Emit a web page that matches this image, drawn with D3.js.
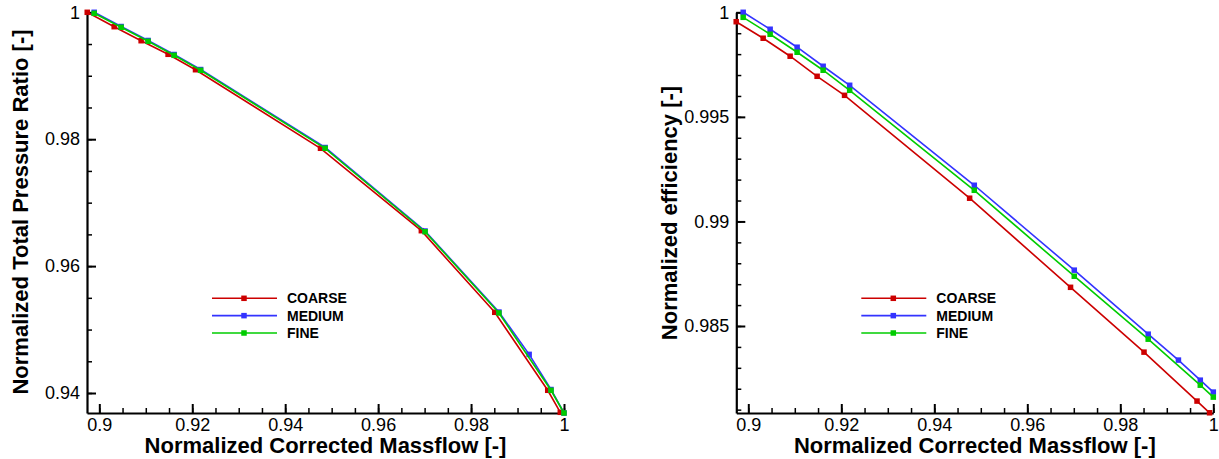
<!DOCTYPE html>
<html>
<head>
<meta charset="utf-8">
<script src="https://cdn.jsdelivr.net/npm/d3@7"></script>
<style>
  html, body { margin: 0; padding: 0; background: #fff; }
  svg { display: block; font-family: "Liberation Sans", Arial, sans-serif; }
</style>
</head>
<body>
<svg id="chart" width="1219" height="459"></svg>
<script>
// ---- data ----
const seriesNames = ["COARSE", "MEDIUM", "FINE"];
const massflowCoarse = [0.8974, 0.9032, 0.9090, 0.9148, 0.9207, 0.9476, 0.9693, 0.9851, 0.9965, 0.9992];
const massflowMedium = [0.8989, 0.9047, 0.9105, 0.9161, 0.9218, 0.9486, 0.9701, 0.9860, 0.9925, 0.9972, 1.0];
const massflowFine   = [0.8989, 0.9047, 0.9105, 0.9161, 0.9218, 0.9486, 0.9701, 0.9860, 0.9972, 1.0];

const prCoarse = [1.0, 0.99773, 0.99552, 0.99338, 0.99095, 0.97857, 0.96558, 0.95272, 0.94043, 0.93696];
const prMedium = [1.0, 0.99776, 0.99556, 0.99335, 0.99098, 0.97869, 0.96553, 0.95276, 0.94609, 0.94055, 0.93685];
const prFine   = [0.99984, 0.99764, 0.99543, 0.99322, 0.99086, 0.97857, 0.96542, 0.95261, 0.94043, 0.93685];

const effCoarse = [0.99955, 0.99876, 0.99790, 0.99694, 0.99603, 0.99111, 0.98685, 0.98375, 0.98141, 0.98085];
const effMedium = [1.0, 0.99919, 0.99833, 0.99742, 0.99651, 0.99173, 0.98767, 0.98461, 0.98337, 0.98241, 0.98184];
const effFine   = [0.99976, 0.99895, 0.99809, 0.99723, 0.99627, 0.99149, 0.98738, 0.98437, 0.98217, 0.98160];

const xTicks = [0.9, 0.92, 0.94, 0.96, 0.98, 1];
const xTickLabels = ["0.9", "0.92", "0.94", "0.96", "0.98", "1"];
const prTicks = [0.94, 0.96, 0.98, 1];
const prTickLabels = ["0.94", "0.96", "0.98", "1"];
const effTicks = [0.985, 0.99, 0.995, 1];
const effTickLabels = ["0.985", "0.99", "0.995", "1"];

const xTitle = "Normalized Corrected Massflow [-]";
const prTitle = "Normalized Total Pressure Ratio [-]";
const effTitle = "Normalized efficiency [-]";

// ---- styles ----
const colors = ["#cc0000", "#3333ff", "#00cc00"];
const svg = d3.select("#chart");

function drawPanel(cfg) {
  const x = d3.scaleLinear().domain(cfg.xDomain).range([cfg.left, cfg.right]);
  const y = d3.scaleLinear().domain(cfg.yDomain).range([cfg.bottom, cfg.top]);
  const g = svg.append("g");

  // minor ticks
  const xMinor = d3.range(0.9, 1.0001, 0.005).filter(v => v >= cfg.xDomain[0]);
  g.append("g").attr("transform", `translate(0,${cfg.bottom})`)
    .call(d3.axisBottom(x).tickValues(xMinor).tickSize(-5).tickFormat("").tickSizeOuter(0))
    .call(s => s.select(".domain").remove())
    .call(s => s.selectAll("line").attr("stroke-width", 1.5));
  const yMinor = d3.range(cfg.yMinorStart, 1.00001, cfg.yMinorStep).filter(v => v >= cfg.yDomain[0]);
  g.append("g").attr("transform", `translate(${cfg.left},0)`)
    .call(d3.axisLeft(y).tickValues(yMinor).tickSize(-5).tickFormat("").tickSizeOuter(0))
    .call(s => s.select(".domain").remove())
    .call(s => s.selectAll("line").attr("stroke-width", 1.5));

  // major axes
  const xa = g.append("g").attr("transform", `translate(0,${cfg.bottom})`)
    .call(d3.axisBottom(x).tickValues(xTicks).tickSize(-9).tickSizeOuter(0).tickPadding(5.5)
      .tickFormat((d, i) => xTickLabels[i]));
  const ya = g.append("g").attr("transform", `translate(${cfg.left},0)`)
    .call(d3.axisLeft(y).tickValues(cfg.yTicks).tickSize(-9).tickSizeOuter(0).tickPadding(7)
      .tickFormat((d, i) => cfg.yLabels[i]));
  [xa, ya].forEach(a => {
    a.selectAll("text").attr("font-size", 18).attr("font-family", "Liberation Sans, Arial, sans-serif").attr("fill", "#000");
    a.selectAll("line").attr("stroke-width", 2).attr("stroke", "#000");
    a.select(".domain").attr("stroke-width", 2.2).attr("stroke", "#000");
  });

  // titles
  g.append("text").attr("x", (cfg.left + cfg.right) / 2).attr("y", 453)
    .attr("text-anchor", "middle").attr("font-size", 22).attr("font-weight", "bold").text(xTitle);
  g.append("text").attr("transform", `translate(${cfg.yTitleX},${cfg.yTitleY}) rotate(-90)`)
    .attr("text-anchor", "middle").attr("font-size", 22).attr("font-weight", "bold").text(cfg.yTitle);

  // series
  const line = d3.line().x(d => x(d[0])).y(d => y(d[1]));
  cfg.series.forEach((s, i) => {
    const pts = s.xs.map((v, j) => [v, s.ys[j]]);
    g.append("path").datum(pts).attr("d", line).attr("fill", "none")
      .attr("stroke", colors[i]).attr("stroke-width", 1.6);
    g.selectAll(null).data(pts).enter().append("rect")
      .attr("x", d => x(d[0]) - 2.75).attr("y", d => y(d[1]) - 2.75)
      .attr("width", 5.5).attr("height", 5.5).attr("fill", colors[i]);
  });

  // legend
  const lg = g.append("g");
  seriesNames.forEach((name, i) => {
    const yy = cfg.legendY + i * 17.35;
    lg.append("line").attr("x1", cfg.legendX).attr("x2", cfg.legendX + 65)
      .attr("y1", yy).attr("y2", yy).attr("stroke", colors[i]).attr("stroke-width", 1.6);
    lg.append("rect").attr("x", cfg.legendX + 32 - 2.75).attr("y", yy - 2.75)
      .attr("width", 5.5).attr("height", 5.5).attr("fill", colors[i]);
    lg.append("text").attr("x", cfg.legendX + 75).attr("y", yy).attr("dy", "0.36em")
      .attr("font-size", 14).attr("font-weight", "bold").text(name);
  });
}

drawPanel({
  left: 87, right: 564, top: 12.3, bottom: 413,
  xDomain: [0.89735, 1.0], yDomain: [0.93685, 1.0],
  yTicks: prTicks, yLabels: prTickLabels, yMinorStart: 0.94, yMinorStep: 0.005,
  yTitle: prTitle, yTitleX: 28, yTitleY: 212,
  legendX: 212, legendY: 298.3,
  series: [
    { xs: massflowCoarse, ys: prCoarse },
    { xs: massflowMedium, ys: prMedium },
    { xs: massflowFine, ys: prFine }
  ]
});

drawPanel({
  left: 736.3, right: 1213.3, top: 12.3, bottom: 413,
  xDomain: [0.89742, 1.0], yDomain: [0.98084, 1.0],
  yTicks: effTicks, yLabels: effTickLabels, yMinorStart: 0.981, yMinorStep: 0.001,
  yTitle: effTitle, yTitleX: 677, yTitleY: 213,
  legendX: 861.3, legendY: 298.3,
  series: [
    { xs: massflowCoarse, ys: effCoarse },
    { xs: massflowMedium, ys: effMedium },
    { xs: massflowFine, ys: effFine }
  ]
});
</script>
</body>
</html>
